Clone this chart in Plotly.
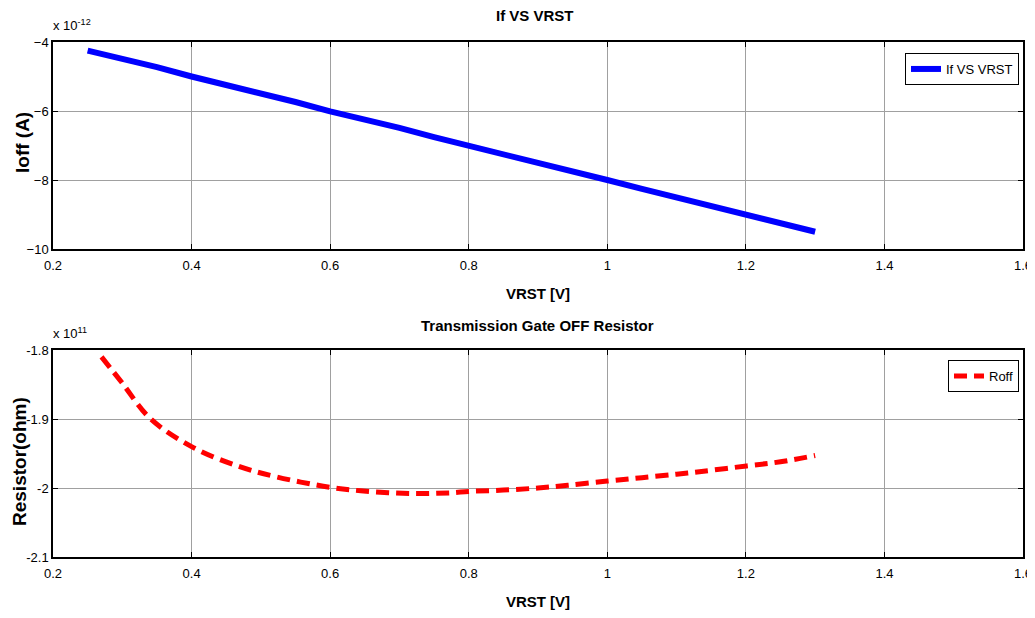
import plotly.graph_objects as go
from plotly.subplots import make_subplots

# Top: Ioff vs VRST (units of 1e-12 A)
vrst_top = [0.25, 0.30, 0.35, 0.40, 0.45, 0.50, 0.55, 0.60, 0.65, 0.70, 0.75, 0.80,
            0.85, 0.90, 0.95, 1.00, 1.05, 1.10, 1.15, 1.20, 1.25, 1.30]
ioff = [-4.25, -4.48, -4.73, -5.00, -5.24, -5.48, -5.74, -6.01, -6.24, -6.49, -6.76, -7.00,
        -7.25, -7.51, -7.74, -8.00, -8.26, -8.50, -8.74, -9.01, -9.26, -9.50]

# Bottom: Roff vs VRST (units of 1e11 ohm)
vrst_bot = [0.27, 0.30, 0.34, 0.40, 0.466, 0.523, 0.60, 0.644, 0.716, 0.774, 0.80,
            0.85, 0.90, 0.943, 1.00, 1.05, 1.10, 1.136, 1.201, 1.25, 1.30]
roff = [-1.810, -1.848, -1.899, -1.940, -1.968, -1.984, -1.999, -2.004, -2.008, -2.007, -2.005,
        -2.003, -2.000, -1.996, -1.990, -1.985, -1.980, -1.976, -1.968, -1.962, -1.953]

x_ticks = [0.2, 0.4, 0.6, 0.8, 1.0, 1.2, 1.4, 1.6]
x_ticktext = ["0.2", "0.4", "0.6", "0.8", "1", "1.2", "1.4", "1.6"]
y_top_ticks = [-10, -8, -6, -4]
y_bot_ticks = [-2.1, -2.0, -1.9, -1.8]
y_bot_text = ["-2.1", "-2", "-1.9", "-1.8"]

FONT = "Liberation Sans, Arial"

OFF = 8  # page body margin
W, HT = 1035 - OFF, 618 - OFF
# target page-pixel positions of the plot area
PL, PR, PT, PB = 53, 1023, 42, 557
ML, MR, MT, MB = PL - OFF, W - (PR - OFF), PT - OFF, HT - (PB - OFF)
PW = W - ML - MR
PH = HT - MT - MB

def px(p):
    return (p - OFF - ML) / PW

def py(p):
    return (HT - MB - (p - OFF)) / PH

fig = make_subplots(rows=2, cols=1)

fig.add_trace(go.Scatter(x=vrst_top, y=ioff, mode="lines", name="If VS VRST",
                         line=dict(color="#0000ff", width=6), legend="legend"), row=1, col=1)
fig.add_trace(go.Scatter(x=vrst_bot, y=roff, mode="lines", name="Roff",
                         line=dict(color="#ff0000", width=5, dash="13px,7px", shape="spline"),
                         legend="legend2"), row=2, col=1)

axis_common = dict(showline=True, linecolor="black", linewidth=1.5, mirror="ticks",
                   ticks="inside", ticklen=5, tickcolor="black", automargin=False,
                   showgrid=True, gridcolor="#a0a0a0", gridwidth=1, zeroline=False,
                   tickfont=dict(family=FONT, size=13, color="black"))

for r in (1, 2):
    fig.update_xaxes(range=[0.2, 1.6], tickvals=x_ticks, ticktext=x_ticktext, domain=[0, 1],
                     ticklabelstandoff=4,
                     title=dict(text="<b>VRST [V]</b>", font=dict(family=FONT, size=15, color="black"),
                                standoff=16),
                     row=r, col=1, **axis_common)

fig.update_yaxes(range=[-10, -4], tickvals=y_top_ticks, domain=[py(249), 1.0],
                 row=1, col=1, **axis_common)
fig.update_yaxes(range=[-2.1, -1.8], tickvals=y_bot_ticks, ticktext=y_bot_text, domain=[0.0, py(350)],
                 row=2, col=1, **axis_common)

fig.update_layout(
    width=W, height=HT,
    margin=dict(l=ML, r=MR, t=MT, b=MB, autoexpand=False),
    plot_bgcolor="white", paper_bgcolor="white",
    showlegend=True,
    legend=dict(x=px(1019), y=py(53), xanchor="right", yanchor="top", xref="paper", yref="paper",
                bordercolor="black", borderwidth=1, bgcolor="white",
                font=dict(family=FONT, size=13, color="black"), itemwidth=30,
                tracegroupgap=0),
    legend2=dict(x=px(1019), y=py(360), xanchor="right", yanchor="top", xref="paper", yref="paper",
                 bordercolor="black", borderwidth=1, bgcolor="white",
                 font=dict(family=FONT, size=13, color="black"), itemwidth=30),
)

def ann(text, x, y, size, angle=0, xanchor="center", yanchor="middle"):
    fig.add_annotation(text=text, x=px(x), y=py(y), xref="paper", yref="paper",
                       xanchor=xanchor, yanchor=yanchor, textangle=angle, showarrow=False,
                       font=dict(family=FONT, size=size, color="black"))

ann("<b>If VS VRST</b>", 535, 15, 15)
ann("<b>Transmission Gate OFF Resistor</b>", 537, 325, 15)
ann("<b>Ioff (A)</b>", 22, 143, 19, angle=-90)
ann("<b>Resistor(ohm)</b>", 19, 462, 19, angle=-90)
ann("x 10<sup>-12</sup>", 51, 35, 13, xanchor="left", yanchor="bottom")
ann("x 10<sup>11</sup>", 51, 343, 13, xanchor="left", yanchor="bottom")

fig.write_html("out.html")
